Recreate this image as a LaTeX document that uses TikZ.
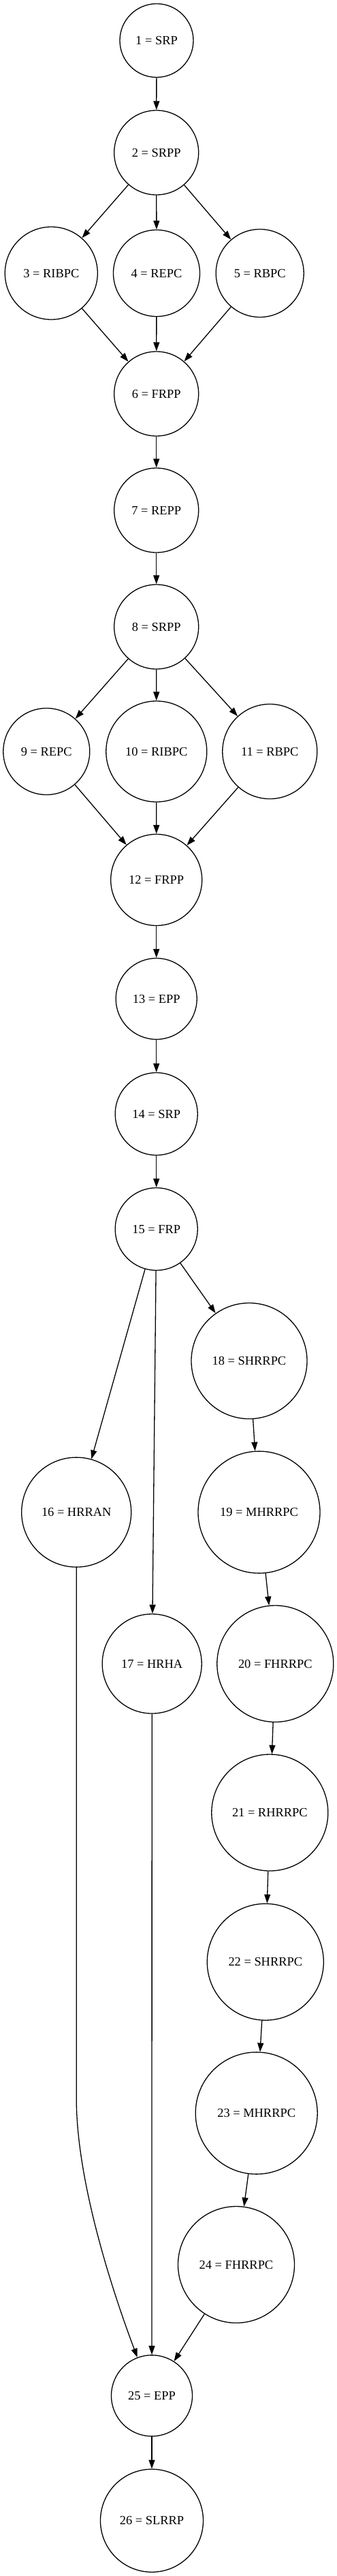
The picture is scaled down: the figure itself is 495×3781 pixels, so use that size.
\documentclass[tikz,border=0pt]{standalone}
\usepackage{fontspec}
\setmainfont{Liberation Serif}
\usetikzlibrary{arrows.meta}

\begin{document}
\begin{tikzpicture}[x=1pt, y=-1pt,
	vtx/.style={draw, circle, inner sep=0pt, line width=1.3pt, font=\fontsize{18.4}{22}\selectfont},
	arr/.style={-{Triangle[length=13pt,width=9pt]}, line width=1.3pt}]

\useasboundingbox (0,0) rectangle (495,3781);

% upper part
\node[vtx, minimum size=108pt] (v1) at (230,59.5) {1 = SRP};
\node[vtx, minimum size=124pt] (v2) at (229.7,224) {2 = SRPP};
\node[vtx, minimum size=136pt] (v3) at (75.3,401) {3 = RIBPC}; \node[vtx, minimum size=127pt] (v4) at (230,401) {4 = REPC}; \node[vtx, minimum size=129pt] (v5) at (381.7,401) {5 = RBPC};
\node[vtx, minimum size=124pt] (v6) at (229.7,578) {6 = FRPP};
\node[vtx, minimum size=124pt] (v7) at (229.7,749) {7 = REPP};
\node[vtx, minimum size=124pt] (v8) at (229.7,920) {8 = SRPP};
\node[vtx, minimum size=127pt] (v9) at (68.3,1103) {9 = REPC}; \node[vtx, minimum size=148pt] (v10) at (229.8,1103) {10 = RIBPC}; \node[vtx, minimum size=139pt] (v11) at (396.3,1103) {11 = RBPC};
\node[vtx, minimum size=134pt] (v12) at (229.7,1291.5) {12 = FRPP};
\node[vtx, minimum size=119pt] (v13) at (229.7,1466) {13 = EPP};
\node[vtx, minimum size=121pt] (v14) at (229.7,1635) {14 = SRP};
\node[vtx, minimum size=121pt] (v15) at (229.7,1804) {15 = FRP};

% three branches
\node[vtx, minimum size=170pt] (v18) at (366,1997.5) {18 = SHRRPC};
\node[vtx, minimum size=161pt] (v16) at (112.2,2219.6) {16 = HRRAN}; \node[vtx, minimum size=179pt] (v19) at (380.5,2219.6) {19 = MHRRPC};
\node[vtx, minimum size=146pt] (v17) at (223.2,2442) {17 = HRHA}; \node[vtx, minimum size=171pt] (v20) at (404.3,2442) {20 = FHRRPC};
\node[vtx, minimum size=171pt] (v21) at (396.3,2660.5) {21 = RHRRPC};
\node[vtx, minimum size=171pt] (v22) at (389.8,2879.7) {22 = SHRRPC};
\node[vtx, minimum size=179pt] (v23) at (376.7,3101.6) {23 = MHRRPC};
\node[vtx, minimum size=171pt] (v24) at (347,3324) {24 = FHRRPC};
\node[vtx, minimum size=119pt] (v25) at (223,3516.3) {25 = EPP};
\node[vtx, minimum size=151pt] (v26) at (223,3699.7) {26 = SLRRP};

\coordinate (k16) at (112.2,3080);

\draw [arr] (v1) edge (v2);
\draw [arr] (v2) edge (v3);
\draw [arr] (v2) edge (v4);
\draw [arr] (v2) edge (v5);
\draw [arr] (v3) edge (v6);
\draw [arr] (v4) edge (v6);
\draw [arr] (v5) edge (v6);
\draw [arr] (v6) edge (v7);
\draw [arr] (v7) edge (v8);
\draw [arr] (v8) edge (v9);
\draw [arr] (v8) edge (v10);
\draw [arr] (v8) edge (v11);
\draw [arr] (v9) edge (v12);
\draw [arr] (v10) edge (v12);
\draw [arr] (v11) edge (v12);
\draw [arr] (v12) edge (v13);
\draw [arr] (v13) edge (v14);
\draw [arr] (v14) edge (v15);

\draw [arr] (v15) edge (v16);
\draw [arr] (v15) edge (v17);
\draw [arr] (v15) edge (v18);
\draw [arr] (v18) edge (v19);
\draw [arr] (v19) edge (v20);
\draw [arr] (v20) edge (v21);
\draw [arr] (v21) edge (v22);
\draw [arr] (v22) edge (v23);
\draw [arr] (v23) edge (v24);

\draw [arr] (v16) -- (k16) .. controls (112.2,3200) and (164,3360) .. (v25);
\draw [arr] (v17) edge (v25);
\draw [arr] (v24) edge (v25);
\draw [arr] (v25) edge (v26);
\end{tikzpicture}
\end{document}
